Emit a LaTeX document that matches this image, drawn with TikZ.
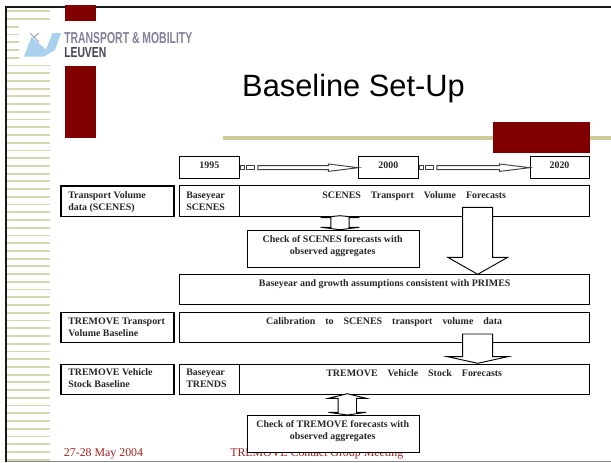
\documentclass[tikz,border=0pt]{standalone}
\usepackage{fontspec}
\setmainfont{Liberation Serif}
\newfontfamily\arialfont{Liberation Sans}
\usetikzlibrary{calc}
\definecolor{tmlred}{HTML}{800000}
\definecolor{footred}{HTML}{A02020}
\definecolor{stripe}{HTML}{D6D6B0}
\definecolor{goldline}{HTML}{CCCC99}
\definecolor{logoblue}{HTML}{A9D0EC}
\definecolor{logogray}{HTML}{85809A}
\definecolor{logodark}{HTML}{45454F}
\tikzset{
  x=0.75pt,y=-0.75pt,
  frame/.style={draw=black,line width=0.8pt,fill=white,inner sep=0pt},
  sidebox/.style={draw=black,line width=1.15pt,fill=white,inner sep=0pt},
  lbl/.style={font=\fontsize{7.45}{9}\selectfont\bfseries,inner sep=0pt,text=black!85},
  lblleft/.style={lbl,align=left,anchor=base west},
  lblmid/.style={lbl,align=center,anchor=base},
  block/.style={draw=black,line width=0.7pt,fill=white,line join=miter},
  bar/.style={draw=black!75,line width=0.7pt,fill=white},
  foot/.style={font=\fontsize{8.9}{10}\selectfont,text=footred,inner sep=0pt,anchor=base west}
}
% \boxat{style}{name}{x1}{y1}{x2}{y2}
\newcommand{\boxat}[6]{%
  \pgfmathsetmacro{\bw}{(#5-#3)*0.75}\pgfmathsetmacro{\bh}{(#6-#4)*0.75}%
  \node[#1,minimum width=\bw pt,minimum height=\bh pt,anchor=north west] (#2) at (#3,#4) {};}
% year arrow from east of one box to west of next one
\newcommand{\yeararrow}[2]{%
  \draw[bar] ($(#1.east)+(0,-1.8)$) rectangle ($(#1.east)+(4.5,1.8)$);
  \draw[bar] ($(#1.east)+(6.5,-1.8)$) rectangle ($(#1.east)+(14.5,1.8)$);
  \draw[bar] ($(#1.east)+(17.5,-2)$) -- ($(#2.west)+(-30,-2)$) -- ($(#2.west)+(-30,-3.7)$)
    -- (#2.west) -- ($(#2.west)+(-30,3.7)$) -- ($(#2.west)+(-30,2)$) -- ($(#1.east)+(17.5,2)$) -- cycle;}
% block arrow pointing down: centre x, top y, wing y, tip y
\newcommand{\downblock}[4]{%
  \draw[block] (#1-15,#2) -- (#1+15,#2) -- (#1+15,#3) -- (#1+30,#3) -- (#1,#4)
    -- (#1-30,#3) -- (#1-15,#3) -- cycle;}
% double block arrow: centre x, half shaft, half wing, top tip, top wing, bottom wing, bottom tip
\newcommand{\updown}[7]{%
  \draw[block] (#1,#4) -- (#1+#3,#5) -- (#1+#2,#5) -- (#1+#2,#6) -- (#1+#3,#6) -- (#1,#7)
    -- (#1-#3,#6) -- (#1-#2,#6) -- (#1-#2,#5) -- (#1-#3,#5) -- cycle;}
\begin{document}
\begin{tikzpicture}
\useasboundingbox (0,0) rectangle (611,462);
\fill[white] (0,0) rectangle (611,462);
% stripes
\foreach \i in {0,...,58}{
  \fill[stripe] (7,{10.4+7.73*\i}) rectangle (50,{12.2+7.73*\i});
}
% frame of the slide
\fill[black!90] (5,5.7) rectangle (611,8);
\fill[black!90] (5,5.7) rectangle (7,462);
\fill[black!45] (7,460.6) rectangle (611,461.6);
% red blocks
\fill[tmlred] (65,5) rectangle (96,21);
\fill[tmlred] (65,66) rectangle (96,138);
% gold rule and red block
\fill[goldline] (223,136.4) rectangle (611,139.8);
\fill[tmlred] (493,122) rectangle (590,153);
% logo
\fill[white] (19,22) rectangle (200,65);
\fill[logoblue] (24,56.5) -- (31.5,37) -- (46,49.5) -- (52.5,33) -- (61,33) -- (55,50) -- (44,56.5) -- cycle;
\draw[logogray!70,line width=0.8pt] (30,33) -- (39,42);
\draw[logogray!70,line width=0.8pt] (39,33) -- (33,38);
\node[anchor=north west,inner sep=0pt,text=logogray] (logoa) at (64,32.5)
  {\resizebox{96pt}{8.3pt}{\arialfont\bfseries TRANSPORT \& MOBILITY}};
\node[anchor=north west,inner sep=0pt,text=logodark] (logob) at (64,47.2)
  {\resizebox{31.5pt}{7.5pt}{\arialfont\bfseries LEUVEN}};
% title
\node[anchor=base,inner sep=0pt,font=\arialfont\fontsize{23.1}{26}\selectfont] (title) at (353.5,96) {Baseline Set-Up};
% footer
\node[foot] (date) at (63.7,456.7) {27-28 May 2004};
\node[foot] (meeting) at (230,456.7) {TREMOVE Contact Group Meeting};
% year boxes
\boxat{frame}{y95}{179.3}{156}{239.3}{178.3}
\boxat{frame}{y00}{358.3}{156}{418.3}{178.3}
\boxat{frame}{y20}{529.7}{156}{589.3}{178.3}
\node[lblmid] (t95) at (209.3,168.7) {1995};
\node[lblmid] (t00) at (388.3,168.7) {2000};
\node[lblmid] (t20) at (559.5,168.7) {2020};
\yeararrow{y95}{y00}
\yeararrow{y00}{y20}
% row 1
\boxat{sidebox}{sa}{60.3}{185.3}{173}{215.7}
\boxat{frame}{ba}{179.3}{185.3}{239.3}{215.7}
\boxat{frame}{fa}{239.3}{185.3}{589.3}{215.7}
\node[lblleft] (tsa) at (68,210) {Transport Volume\\data (SCENES)};
\node[lblleft] (tba) at (186,210) {Baseyear\\SCENES};
\node[lblmid] (tfa) at (414.2,198) {SCENES\hspace{7.5pt}Transport\hspace{7.5pt}Volume\hspace{7.5pt}Forecasts};
% SCENES check
\boxat{frame}{ca}{246.7}{230.3}{418.7}{267.3}
\node[lblmid] (tca) at (332.7,254) {Check of SCENES forecasts with\\observed aggregates};
\updown{340}{9.2}{19.3}{215.7}{217.6}{227.3}{229.7}
% big arrows
\downblock{477.7}{207.3}{257.3}{274.3}
% row 2
\boxat{frame}{mb}{179.3}{274.3}{589.3}{304.3}
\node[lblmid] (tmb) at (384.7,286.7) {Baseyear and growth assumptions consistent with PRIMES};
% row 3
\boxat{sidebox}{sc}{60.3}{311.5}{173}{341.7}
\boxat{frame}{fc}{179.3}{311.7}{589.3}{341.7}
\node[lblleft] (tsc) at (68,336) {TREMOVE Transport\\Volume Baseline};
\node[lblmid] (tfc) at (384.2,324.7) {Calibration\hspace{7.5pt}to\hspace{7.5pt}SCENES\hspace{7.5pt}transport\hspace{7.5pt}volume\hspace{7.5pt}data};
% row 4
\boxat{frame}{fd}{239.3}{363.7}{589.3}{393.7}
\boxat{frame}{bd}{179.3}{363.7}{239.3}{393.7}
\boxat{sidebox}{sd}{60.3}{363.5}{173}{393.9}
\node[lblleft] (tsd) at (68,387.7) {TREMOVE Vehicle\\Stock Baseline};
\node[lblleft] (tbd) at (186,387.7) {Baseyear\\TRENDS};
\node[lblmid] (tfd) at (414.2,376) {TREMOVE\hspace{7.5pt}Vehicle\hspace{7.5pt}Stock\hspace{7.5pt}Forecasts};
\downblock{477.7}{334}{356.7}{363.3}
% TREMOVE check
\updown{347.3}{9.2}{18.8}{393.7}{398.3}{412.3}{415}
\boxat{frame}{ce}{246.7}{415.3}{418.7}{452}
\node[lblmid] (tce) at (332.7,439.3) {Check of TREMOVE forecasts with\\observed aggregates};
\end{tikzpicture}
\end{document}
